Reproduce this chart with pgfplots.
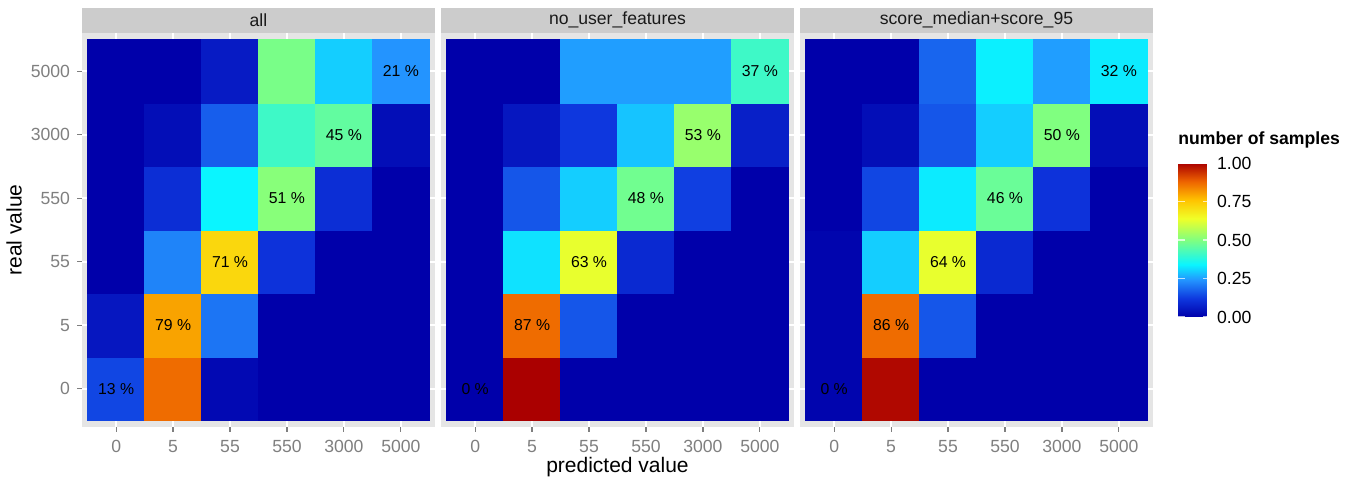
\documentclass[border=0pt]{standalone}
\usepackage{pgfplots}
\usepackage{pgfplotstable}
\pgfplotsset{compat=1.18}
\usepackage{fontspec}
\setmainfont{Liberation Sans}

\definecolor{stripgrey}{RGB}{204,204,204}
\definecolor{panelgrey}{RGB}{229,229,229}
\definecolor{tickgrey}{RGB}{127,127,127}

\pgfplotsset{
  colormap={ggjet}{rgb255(0pt)=(0,0,170) rgb255(12pt)=(14,55,222) rgb255(24pt)=(35,148,255)
    rgb255(34pt)=(10,245,255) rgb255(50pt)=(128,255,128) rgb255(64pt)=(240,255,40)
    rgb255(76pt)=(255,195,0) rgb255(88pt)=(238,100,0) rgb255(100pt)=(170,0,0)},
  heatpanel/.style={
    anchor=south west, scale only axis,
    width=176.5pt, height=197pt,
    xmin=-0.6, xmax=5.6, ymin=-0.6, ymax=5.6,
    xtick={0,...,5}, ytick={0,...,5},
    xticklabels={0,5,55,550,3000,5000},
    xtick pos=bottom, ytick pos=left,
    axis background/.style={fill=panelgrey},
    grid=major, major grid style={white, line width=1pt},
    axis line style={draw=none},
    tick align=outside, major tick length=2.5pt,
    tick style={tickgrey, line width=0.6pt},
    ticklabel style={text=tickgrey, font=\fontsize{8.8}{10}\selectfont},
    xticklabel style={yshift=-0.8pt},
    colormap name=ggjet, point meta min=0, point meta max=1,
    title style={at={(0.5,1)}, anchor=south, yshift=-6pt, fill=stripgrey,
      minimum width=176.5pt, minimum height=12.5pt, inner sep=0pt,
      text=black!90, font=\fontsize{8.8}{10}\selectfont},
  },
  celltext/.style={draw=none, mark=none, nodes near coords, point meta=explicit symbolic,
    nodes near coords align=center,
    every node near coord/.append style={text=black, font=\fontsize{7.9}{9}\selectfont}},
}

% tiles: x = predicted (0,5,55,550,3000,5000), y = real value, v = fill
\pgfplotstableread{
x y v
0 0 0.14
1 0 0.87
2 0 0.02
3 0 0
4 0 0
5 0 0
0 1 0.05
1 1 0.80
2 1 0.20
3 1 0
4 1 0
5 1 0
0 2 0
1 2 0.22
2 2 0.72
3 2 0.11
4 2 0
5 2 0
0 3 0
1 3 0.10
2 3 0.34
3 3 0.51
4 3 0.10
5 3 0
0 4 0
1 4 0.03
2 4 0.17
3 4 0.41
4 4 0.46
5 4 0.03
0 5 0
1 5 0
2 5 0.06
3 5 0.49
4 5 0.30
5 5 0.24
}\tabAll

\pgfplotstableread{
x y v
0 0 0
1 0 1.00
2 0 0
3 0 0
4 0 0
5 0 0
0 1 0
1 1 0.87
2 1 0.16
3 1 0
4 1 0
5 1 0
0 2 0
1 2 0.32
2 2 0.63
3 2 0.09
4 2 0
5 2 0
0 3 0
1 3 0.16
2 3 0.30
3 3 0.48
4 3 0.13
5 3 0
0 4 0
1 4 0.05
2 4 0.12
3 4 0.29
4 4 0.53
5 4 0.07
0 5 0
1 5 0
2 5 0.25
3 5 0.25
4 5 0.25
5 5 0.41
}\tabNoUser

\pgfplotstableread{
x y v
0 0 0.01
1 0 0.99
2 0 0
3 0 0
4 0 0
5 0 0
0 1 0.01
1 1 0.87
2 1 0.16
3 1 0
4 1 0
5 1 0
0 2 0.01
1 2 0.30
2 2 0.63
3 2 0.09
4 2 0
5 2 0
0 3 0
1 3 0.14
2 3 0.33
3 3 0.47
4 3 0.11
5 3 0
0 4 0
1 4 0.03
2 4 0.16
3 4 0.30
4 4 0.50
5 4 0.03
0 5 0
1 5 0
2 5 0.18
3 5 0.335
4 5 0.25
5 5 0.33
}\tabScore

\begin{document}
\begin{tikzpicture}
\path[use as bounding box] (0,0) rectangle (677.5pt,240.5pt);
% colorbar corner, minus the default 0.3cm colorbar shift
\coordinate (cbpos) at (580.5pt,82pt);

\begin{axis}[heatpanel, at={(41pt,27pt)}, title={all},
  yticklabels={0,5,55,550,3000,5000},
  ylabel={real value},
  ylabel style={at={(axis description cs:-0.1926,0.5)}, anchor=center, rotate=0,
    font=\fontsize{10.5}{12}\selectfont, text=black}]
  \addplot[matrix plot*, mesh/cols=6, point meta=explicit] table[x=x, y=y, meta=v] {\tabAll};
  \addplot[celltext] coordinates {(0,0)[13 \%] (1,1)[79 \%] (2,2)[71 \%] (3,3)[51 \%] (4,4)[45 \%] (5,5)[21 \%]};
\end{axis}

\begin{axis}[heatpanel, at={(220.5pt,27pt)}, title={no\_user\_features},
  yticklabels={}, ytick style={draw=none},
  xlabel={predicted value},
  xlabel style={at={(axis description cs:0.5,-0.1015)}, anchor=center,
    font=\fontsize{10.5}{12}\selectfont, text=black}]
  \addplot[matrix plot*, mesh/cols=6, point meta=explicit] table[x=x, y=y, meta=v] {\tabNoUser};
  \addplot[celltext] coordinates {(0,0)[0 \%] (1,1)[87 \%] (2,2)[63 \%] (3,3)[48 \%] (4,4)[53 \%] (5,5)[37 \%]};
\end{axis}

\begin{axis}[heatpanel, at={(400pt,27pt)}, title={score\_median+score\_95},
  yticklabels={}, ytick style={draw=none},
  colorbar,
  colorbar style={
    at={(cbpos)}, anchor=south west,
    width=16pt, height=77pt, scale only axis,
    title={number of samples},
    title style={at={(0,1)}, anchor=base west, yshift=3pt, fill=none,
      minimum width=0pt, minimum height=0pt, inner sep=0pt, text=black,
      font=\bfseries\fontsize{8.8}{10}\selectfont},
    grid=none, axis background/.style={}, axis line style={draw=none},
    axis on top,
    xtick=\empty,
    ytick={0,0.25,0.5,0.75,1}, yticklabels={0.00,0.25,0.50,0.75,1.00},
    ytick pos=both, yticklabel pos=right,
    tick align=inside, major tick length=3.5pt,
    tick style={draw=white, opacity=0.7, line width=0.8pt},
    ytick style={draw=white, opacity=0.7, line width=0.8pt},
    every major tick/.append style={draw=white},
    yticklabel style={text=black, font=\fontsize{8.8}{10}\selectfont, xshift=0pt, yshift=0pt},
  }]
  \addplot[matrix plot*, mesh/cols=6, point meta=explicit] table[x=x, y=y, meta=v] {\tabScore};
  \addplot[celltext] coordinates {(0,0)[0 \%] (1,1)[86 \%] (2,2)[64 \%] (3,3)[46 \%] (4,4)[50 \%] (5,5)[32 \%]};
\end{axis}
\end{tikzpicture}
\end{document}
